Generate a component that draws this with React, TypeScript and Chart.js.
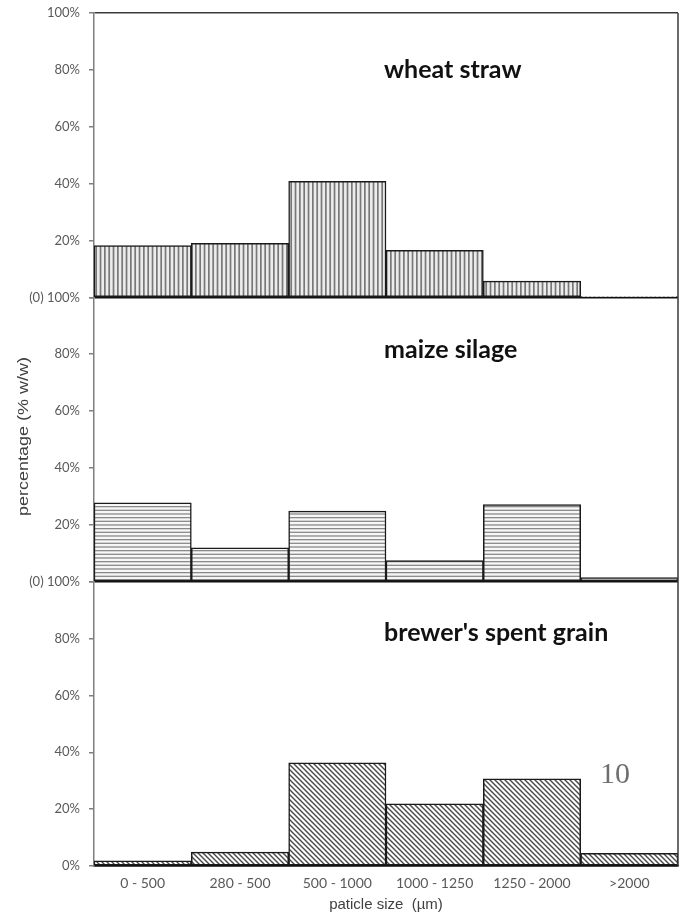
import React, { useEffect, useRef } from "react";
import { Chart, registerables } from "chart.js";

Chart.register(...registerables);

const categories = ["0 - 500", "280 - 500", "500 - 1000", "1000 - 1250", "1250 - 2000", ">2000"];
const wheatStraw = [18.2, 19.0, 40.8, 16.5, 5.7, 0.3];
const maizeSilage = [27.7, 11.9, 24.8, 7.4, 27.1, 1.4];
const brewersSpentGrain = [1.8, 4.9, 36.3, 21.9, 30.7, 4.5];
const panelTitles = ["wheat straw", "maize silage", "brewer's spent grain"];
const panelTitleLevels = [80, 81.5, 82];
const yTickValues = [0, 20, 40, 60, 80, 100];
const yAxisTitle = "percentage (% w/w)";
const xAxisTitle = "paticle size  (µm)";
const pageNumber = "10";

function makePattern(kind: string): CanvasPattern | string {
  const c = document.createElement("canvas");
  const g = c.getContext("2d");
  if (!g) return "#ccc";
  if (kind === "v") {
    c.width = 13;
    c.height = 4;
    g.fillStyle = "#ececec";
    g.fillRect(0, 0, 13, 4);
    g.fillStyle = "#787878";
    for (let i = 0; i < 3; i++) g.fillRect(i * (13 / 3), 0, 1.7, 4);
  } else if (kind === "h") {
    c.width = 4;
    c.height = 11;
    g.fillStyle = "#f7f7f7";
    g.fillRect(0, 0, 4, 11);
    g.fillStyle = "#8a8a8a";
    for (let i = 0; i < 3; i++) g.fillRect(0, i * (11 / 3), 4, 1.3);
  } else {
    c.width = 5;
    c.height = 5;
    g.fillStyle = "#ffffff";
    g.fillRect(0, 0, 5, 5);
    g.strokeStyle = "#4a4a4a";
    g.lineWidth = 1.4;
    for (const k of [-5, 0, 5]) {
      g.beginPath();
      g.moveTo(k - 1, -1);
      g.lineTo(k + 6, 6);
      g.stroke();
    }
  }
  const p = g.createPattern(c, "repeat");
  return p || "#ccc";
}

function tickLabel(panel: number, v: number): string {
  if (panel === 0) return v === 0 ? "(0) 100%" : `${v}%`;
  if (panel === 1) {
    if (v === 100) return "";
    return v === 0 ? "(0) 100%" : `${v}%`;
  }
  if (v === 100) return "";
  return `${v}%`;
}

function yScale(panel: number, weight: number) {
  return {
    type: "linear",
    position: "left",
    stack: "panels",
    stackWeight: 1,
    weight,
    min: 0,
    max: 100,
    afterFit: (s: any) => {
      s.width = 94;
      s.paddingTop = 0;
      s.paddingBottom = 0;
    },
    afterBuildTicks: (s: any) => {
      s.ticks = yTickValues.map((v) => ({ value: v }));
    },
    ticks: {
      stepSize: 20,
      padding: 9,
      color: "#595959",
      font: { family: "Lato", size: 13 },
      callback: (v: any) => tickLabel(panel, Number(v)),
    },
    grid: {
      drawOnChartArea: true,
      tickLength: 5,
      tickColor: "#7f7f7f",
      tickWidth: 1.5,
      lineWidth: 1.5,
      color: (ctx: any) => {
        const v = ctx.tick ? ctx.tick.value : -1;
        if (v === 0) return "#111111";
        if (v === 100 && panel === 0) return "#3a3a3a";
        return "rgba(0,0,0,0)";
      },
    },
    border: { display: true, color: "#7f7f7f", width: 1.5 },
  };
}

const annotationPlugin = {
  id: "annotations",
  afterDraw(chart: any) {
    const { ctx, chartArea, scales } = chart;
    ctx.save();
    ctx.strokeStyle = "#3a3a3a";
    ctx.lineWidth = 1.5;
    ctx.beginPath();
    ctx.moveTo(chartArea.right, chartArea.top);
    ctx.lineTo(chartArea.right, chartArea.bottom);
    ctx.stroke();

    const ids = ["yTop", "yMid", "yBot"];
    const tx = scales.x.getPixelForValue(2.5) - 2;
    ctx.fillStyle = "#111111";
    ctx.font = "bold 25px Lato";
    ctx.textAlign = "left";
    ctx.textBaseline = "middle";
    ids.forEach((id, i) => {
      const y = scales[id].getPixelForValue(panelTitleLevels[i]);
      ctx.fillText(panelTitles[i], tx, y);
    });

    const mid = scales.yMid;
    const cy = (mid.top + mid.bottom) / 2 - 3;
    ctx.translate(24, cy);
    ctx.rotate(-Math.PI / 2);
    ctx.scale(1.2, 1);
    ctx.fillStyle = "#404040";
    ctx.font = "15px 'Liberation Sans'";
    ctx.textAlign = "center";
    ctx.textBaseline = "middle";
    ctx.fillText(yAxisTitle, 0, 0);
    ctx.restore();

    ctx.save();
    ctx.fillStyle = "#6e6e6e";
    ctx.font = "30px 'Liberation Serif'";
    ctx.textAlign = "center";
    ctx.textBaseline = "middle";
    ctx.fillText(pageNumber, chartArea.right - 63, scales.yBot.getPixelForValue(32));
    ctx.restore();
  },
};

export default function App() {
  const ref = useRef<HTMLCanvasElement | null>(null);
  useEffect(() => {
    document.body.style.margin = "0";
    const canvas = ref.current;
    if (!canvas) return;
    const patV = makePattern("v");
    const patH = makePattern("h");
    const patD = makePattern("d");
    const common = {
      borderColor: "#1a1a1a",
      borderWidth: 1.5,
      borderSkipped: false,
      grouped: false,
      barPercentage: 1,
      categoryPercentage: 1,
      xAxisID: "x",
    };
    const chart = new Chart(canvas, {
      type: "bar",
      data: {
        labels: categories,
        datasets: [
          { ...common, label: panelTitles[0], data: wheatStraw, yAxisID: "yTop", backgroundColor: patV },
          { ...common, label: panelTitles[1], data: maizeSilage, yAxisID: "yMid", backgroundColor: patH },
          { ...common, label: panelTitles[2], data: brewersSpentGrain, yAxisID: "yBot", backgroundColor: patD },
        ] as any,
      },
      options: {
        animation: false,
        responsive: false,
        devicePixelRatio: 1,
        layout: { padding: { top: 13, right: 5, left: 0, bottom: 0 } },
        plugins: { legend: { display: false }, tooltip: { enabled: false } },
        scales: {
          x: {
            type: "category",
            offset: true,
            grid: { display: false, drawTicks: false },
            border: { display: true, color: "#111111", width: 1.5 },
            ticks: {
              padding: 9,
              color: "#595959",
              font: { family: "Lato", size: 14 },
              maxRotation: 0,
              autoSkip: false,
            },
            afterFit: (s: any) => {
              s.height = 48;
            },
            title: {
              display: true,
              text: xAxisTitle,
              color: "#404040",
              font: { family: "'Liberation Sans'", size: 15 },
              padding: { top: 0, bottom: 0 },
            },
          },
          yTop: yScale(0, 3),
          yMid: yScale(1, 2),
          yBot: yScale(2, 1),
        } as any,
      },
      plugins: [annotationPlugin],
    });
    return () => chart.destroy();
  }, []);
  return <canvas ref={ref} width={683} height={914} style={{ display: "block" }} />;
}
